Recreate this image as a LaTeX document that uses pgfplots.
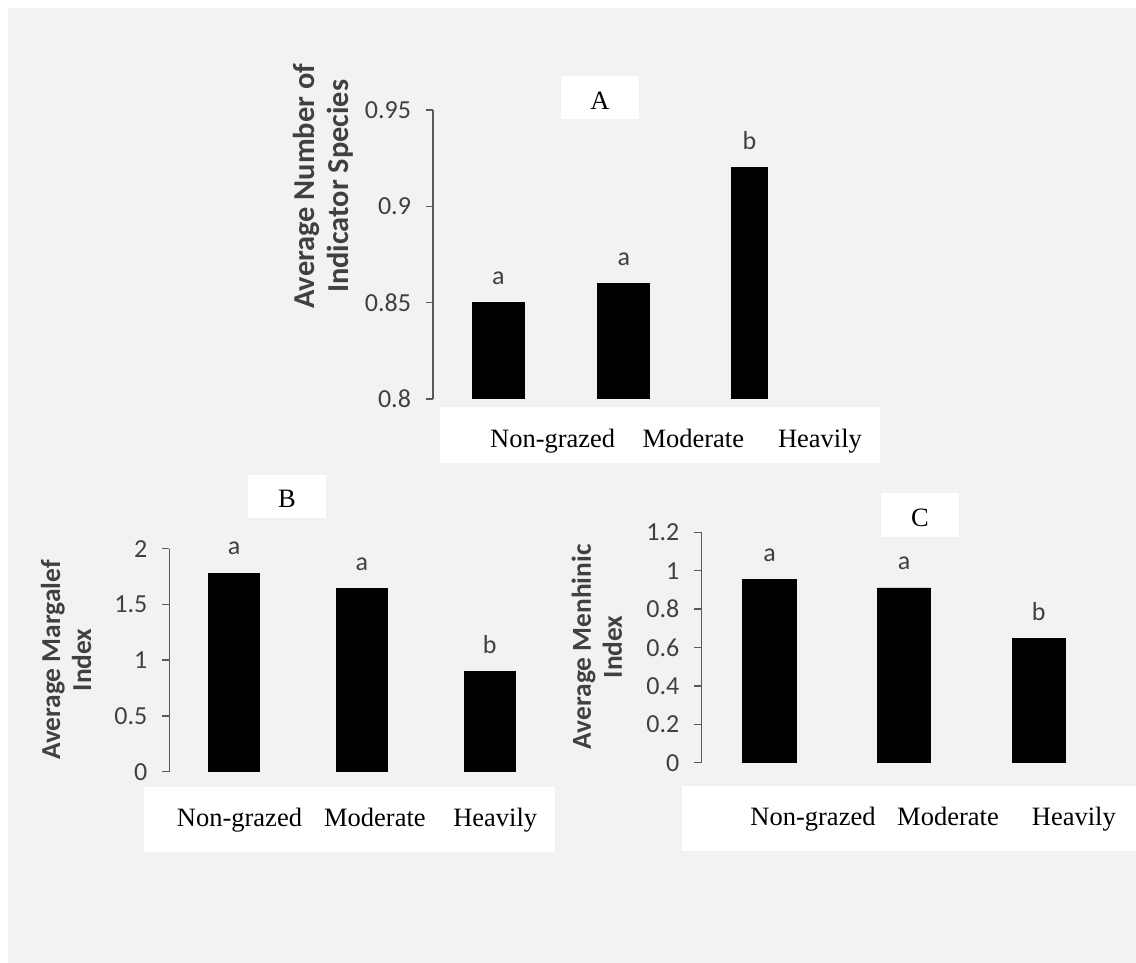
\documentclass[border=0pt]{standalone}
\usepackage{fontspec}
\setmainfont{Liberation Serif}
\newfontfamily\calibri{Carlito}
\usepackage{pgfplots}
\pgfplotsset{compat=1.18}
\usepackage{pgfplotstable}

\definecolor{bg}{HTML}{F2F2F2}
\definecolor{axgray}{HTML}{595959}
\definecolor{txtgray}{HTML}{404040}

% panel B and C values
\pgfplotstableread{
x y lab
0 1.78 a
1 1.64 a
2 0.90 b
}\dataB
\pgfplotstableread{
x y lab
0 0.955 a
1 0.91 a
2 0.645 b
}\dataC

\pgfplotsset{
  panel/.style={
    scale only axis,
    anchor=south west,
    axis lines*=left,
    x axis line style={draw=none},
    y axis line style={axgray, line width=0.75pt},
    xtick style={draw=none},
    ytick style={axgray, line width=0.75pt},
    tick align=outside,
    ytick pos=left,
    major tick length=3.5pt,
    enlargelimits=false,
    ybar,
    /pgf/number format/assume math mode=true,
    yticklabel style={font=\calibri\fontsize{13}{15}\selectfont, text=txtgray, anchor=east, xshift=-4pt},
    xticklabel style={font=\fontsize{13.25}{16}\selectfont, anchor=base},
    ylabel style={font=\calibri\bfseries\fontsize{13.7}{15.5}\selectfont, text=txtgray, align=center, anchor=center},
    nodes near coords,
    point meta=explicit symbolic,
    every node near coord/.append style={font=\calibri\fontsize{13}{15}\selectfont, text=txtgray, yshift=5.5pt},
  },
  blackbar/.style={fill=black, draw=black, bar shift=0pt},
}

\begin{document}
\begin{tikzpicture}
% background
\fill[white] (0,0) rectangle (568pt,481.5pt);
\fill[bg] (4pt,0) rectangle (568pt,477.5pt);

% white boxes behind category labels and panel letters
\fill[white] (220pt,249.85pt) rectangle (440pt,278.15pt);
\fill[white] (72.15pt,55.65pt) rectangle (277.5pt,88.15pt);
\fill[white] (341.15pt,56.15pt) rectangle (568pt,88.5pt);
\fill[white] (280.5pt,421.85pt) rectangle (319.5pt,443.65pt);
\fill[white] (123.95pt,222.65pt) rectangle (162.8pt,244pt);
\fill[white] (440.35pt,213.15pt) rectangle (479.3pt,234.85pt);
\node[font=\fontsize{13.25}{16}\selectfont, anchor=base] at (300pt,426.85pt) {A};
\node[font=\fontsize{13.25}{16}\selectfont, anchor=base] at (143.5pt,227.85pt) {B};
\node[font=\fontsize{13.25}{16}\selectfont, anchor=base] at (460pt,218.15pt) {C};

% A
\begin{axis}[panel,
  at={(216.5pt,282pt)}, width=202.2pt, height=144.5pt,
  xmin=-0.52, xmax=2.7, ymin=0.8, ymax=0.95,
  ytick={0.8,0.85,0.9,0.95}, yticklabels={0.8,0.85,0.9,0.95},
  xtick={0.433,1.553,2.561}, xticklabels={Non-grazed,Moderate,Heavily},
  xticklabel style={yshift=-20.85pt},
  ylabel={Average Number of\\Indicator Species},
  ylabel style={at={(axis description cs:-0.272,0.736)}, font=\calibri\bfseries\fontsize{15.2}{17}\selectfont},
]
\addplot[blackbar, bar width=26pt] coordinates {(0,0.85) [a] (1,0.86) [a]};
\addplot[blackbar, bar width=17.8pt] coordinates {(2,0.92) [b]};
\end{axis}

% B
\begin{axis}[panel, clip=false,
  at={(84.7pt,95.65pt)}, width=198.55pt, height=111.5pt,
  xmin=-0.505, xmax=2.6, ymin=0, ymax=2,
  ytick={0,0.5,1,1.5,2}, yticklabels={0,0.5,1,1.5,2},
  xtick={0.043,1.102,2.043}, xticklabels={Non-grazed,Moderate,Heavily},
  xticklabel style={yshift=-24pt},
  ylabel={Average Margalef\\Index},
  ylabel style={at={(axis description cs:-0.26,0.501)}},
]
\addplot[blackbar, bar width=25.5pt] table[x=x, y=y, meta=lab] {\dataB};
\end{axis}

% C
\begin{axis}[panel, clip=false,
  at={(350.7pt,100.15pt)}, width=209.05pt, height=115.2pt,
  xmin=-0.506, xmax=2.6, ymin=0, ymax=1.2,
  ytick={0,0.2,0.4,0.6,0.8,1,1.2}, yticklabels={0,0.2,0.4,0.6,0.8,1,1.2},
  xtick={0.323,1.326,2.261}, xticklabels={Non-grazed,Moderate,Heavily},
  xticklabel style={yshift=-27.8pt},
  ylabel={Average Menhinic\\Index},
  ylabel style={at={(axis description cs:-0.25,0.503)}},
]
\addplot[blackbar, bar width=26.7pt] table[x=x, y=y, meta=lab] {\dataC};
\end{axis}

\pgfresetboundingbox
\useasboundingbox (0,0) rectangle (568pt,481.5pt);
\end{tikzpicture}
\end{document}
